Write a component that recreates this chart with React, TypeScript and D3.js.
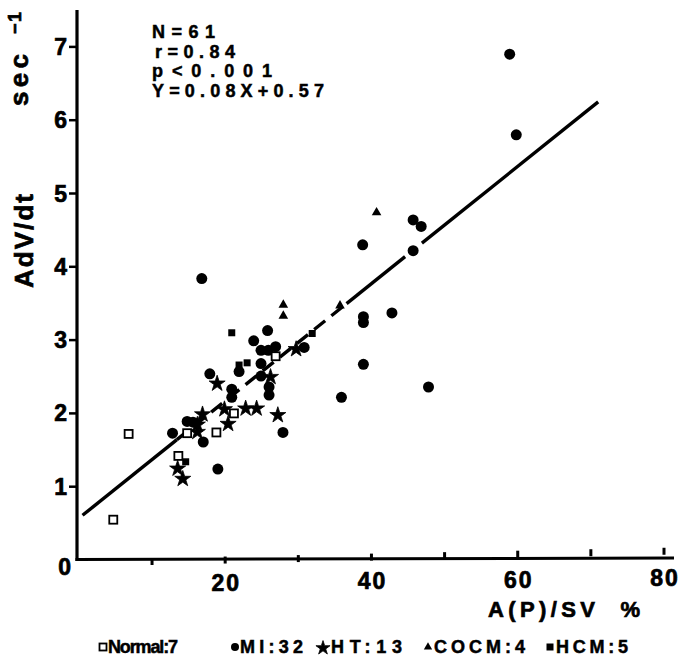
import React from "react";
import * as d3 from "d3";

// ---- data ----
const normalPts: [number, number][] = [
  [4.7, 0.55], [6.8, 1.72], [13.6, 1.42], [14.8, 1.73], [18.8, 1.74], [21.2, 2.0], [26.9, 2.78],
];
const miPts: [number, number][] = [
  [58.9, 6.9], [59.8, 5.8], [45.7, 4.64], [46.8, 4.55], [38.8, 4.3], [45.7, 4.22],
  [38.9, 3.32], [38.9, 3.24], [42.8, 3.37], [38.9, 2.67], [47.8, 2.36], [35.9, 2.22],
  [25.8, 3.13], [23.9, 2.99], [24.9, 2.86], [25.9, 2.86], [26.9, 2.91], [30.8, 2.9],
  [21.9, 2.57], [24.9, 2.68], [24.9, 2.51], [17.9, 2.54], [20.9, 2.33], [20.9, 2.22],
  [26.0, 2.36], [26.0, 2.25], [14.8, 1.89], [15.6, 1.88], [12.8, 1.73], [17.0, 1.61],
  [27.9, 1.74], [19.0, 1.24], [16.8, 3.84],
];
const htPts: [number, number][] = [
  [29.7, 2.89], [26.2, 2.51], [18.9, 2.42], [19.9, 2.07], [22.8, 2.08], [24.3, 2.08],
  [27.2, 1.99], [16.9, 2.0], [20.4, 1.87], [16.2, 1.86], [16.2, 1.76], [13.5, 1.26], [14.2, 1.12],
];
const cocmPts: [number, number][] = [
  [27.95, 3.48], [27.95, 3.33], [35.7, 3.47], [40.7, 4.74],
];
const hcmPts: [number, number][] = [
  [20.9, 3.1], [31.9, 3.09], [23.0, 2.69], [21.9, 2.66], [14.6, 1.34],
];

const slope = 0.08;
const intercept = 0.57;
// regression drawn in pieces: [fromX, toX, dashed]
const regPieces: [number, number, boolean][] = [
  [0.5, 13.4, false],
  [13.4, 36.4, true],
  [36.6, 44.6, false],
  [46.9, 71.0, false],
];

const xTicks = [10, 20, 30, 40, 50, 60, 70, 80];
const xTickLabels = [20, 40, 60, 80];
const yTicks = [1, 2, 3, 4, 5, 6, 7];
const yTickLabels = [0, 1, 2, 3, 4, 5, 6, 7];

const statLines = ["N=61", "r=0.84", "p<0.001", "Y=0.08X+0.57"];
const statWidths = [63, 80, 120, 172];

const legendItems = [
  { label: "Normal:7", kind: "normal" },
  { label: "MI:32", kind: "mi" },
  { label: "HT:13", kind: "ht" },
  { label: "COCM:4", kind: "cocm" },
  { label: "HCM:5", kind: "hcm" },
];

const FONT = "'Liberation Sans', Arial, Helvetica, sans-serif";

export default function App() {
  const W = 685, H = 659;
  const x = d3.scaleLinear().domain([0, 80]).range([78.9, 664]);
  const y = d3.scaleLinear().domain([0, 7]).range([560, 46.9]);
  const axisX = 77;
  const axisY = 559.5;

  const starPath = d3.symbol().type(d3.symbolStar).size(80)()!;
  const starPathSmall = d3.symbol().type(d3.symbolStar).size(62)()!;
  const triPath = d3.symbol().type(d3.symbolTriangle).size(40)()!;
  const triPathSmall = d3.symbol().type(d3.symbolTriangle).size(30)()!;

  const line = d3.line<number>().x((d) => x(d)).y((d) => y(slope * d + intercept));

  const marker = (kind: string, cx: number, cy: number, key: string | number, small = false) => {
    switch (kind) {
      case "normal": {
        const s = small ? 7 : 8;
        return (
          <rect key={key} x={cx - s / 2} y={cy - s / 2} width={s} height={s}
            fill="white" stroke="black" strokeWidth={1.8} />
        );
      }
      case "mi":
        return <circle key={key} cx={cx} cy={cy} r={small ? 4 : 5.5} fill="black" />;
      case "ht":
        return <path key={key} d={small ? starPathSmall : starPath} transform={`translate(${cx},${cy + 1})`} fill="black" stroke="black" strokeWidth={0.8} strokeLinejoin="round" />;
      case "cocm":
        return <path key={key} d={small ? triPathSmall : triPath} transform={`translate(${cx},${cy})`} fill="black" />;
      case "hcm": {
        const s = 7;
        return <rect key={key} x={cx - s / 2} y={cy - s / 2} width={s} height={s} fill="black" />;
      }
    }
    return null;
  };

  // legend layout
  const legendMarkerX = [103, 235, 323, 428, 550];
  const legendTextX = [108, 240, 331, 434, 556];
  const legendTextW = [70, 63, 71, 91, 72];
  const legendBaseline = 653;

  const heavy = { stroke: "black", strokeWidth: 0.7, fontWeight: 700 as const };

  return (
    <svg width={W} height={H} style={{ position: "absolute", left: 0, top: 0, background: "white" }}
      fontFamily={FONT}>
      <rect x={0} y={0} width={W} height={H} fill="white" />

      {/* axes */}
      <line x1={axisX} y1={10} x2={axisX} y2={axisY + 1.5} stroke="black" strokeWidth={3.2} />
      <line x1={axisX - 1.5} y1={axisY} x2={674} y2={axisY - 1.5} stroke="black" strokeWidth={3} />

      {yTicks.map((t) => (
        <line key={"yt" + t} x1={axisX - 8} x2={axisX} y1={y(t)} y2={y(t)} stroke="black" strokeWidth={2.5} />
      ))}
      {yTickLabels.map((t) => (
        <text key={"yl" + t} x={t === 0 ? 71 : 67} y={y(t) + (t === 0 ? 15 : 8)} textAnchor="end"
          fontSize={23} {...heavy}>{t}</text>
      ))}
      {xTicks.map((t) => (
        <line key={"xt" + t} x1={x(t)} x2={x(t)} y1={axisY - 0.02 * (x(t) - 77)} y2={axisY + 7 - 0.02 * (x(t) - 77)}
          stroke="black" strokeWidth={3} />
      ))}
      {xTickLabels.map((t) => (
        <text key={"xl" + t} x={x(t) + 1} y={593 - 0.012 * (x(t) - 77)} textAnchor="middle"
          fontSize={23} letterSpacing={2} {...heavy}>{t}</text>
      ))}

      {/* axis titles */}
      <text x={488} y={617} fontSize={22} textLength={152} lengthAdjust="spacing" {...heavy}>
        {"A(P)/SV\u00a0\u00a0%"}
      </text>
      <text transform="translate(33,288) rotate(-90)" fontSize={26}
        textLength={94} lengthAdjust="spacing" {...heavy}>AdV/dt</text>
      <text transform="translate(28,106) rotate(-90)" fontSize={26}
        textLength={52} lengthAdjust="spacing" {...heavy}>sec</text>
      <text transform="translate(21,34) rotate(-90)" fontSize={18}
        textLength={22} lengthAdjust="spacing" {...heavy}>{"\u2212 1"}</text>

      {/* stats */}
      {statLines.map((s, i) => (
        <text key={s} x={i === 1 ? 155 : 152} y={38 + i * 19.6} fontSize={18}
          textLength={statWidths[i]} lengthAdjust="spacing" {...heavy} strokeWidth={0.5}>{s}</text>
      ))}

      {/* regression line */}
      {regPieces.map(([a, b, dashed], i) => (
        <path key={"reg" + i} d={line([a, b])!} stroke="black" strokeWidth={3.4} fill="none"
          strokeDasharray={dashed ? "14 8" : undefined} />
      ))}

      {/* points */}
      <g>
        {miPts.map((p, i) => marker("mi", x(p[0]), y(p[1]), "mi" + i))}
        {hcmPts.map((p, i) => marker("hcm", x(p[0]), y(p[1]), "hcm" + i))}
        {cocmPts.map((p, i) => marker("cocm", x(p[0]), y(p[1]), "co" + i))}
        {htPts.map((p, i) => marker("ht", x(p[0]), y(p[1]), "ht" + i))}
        {normalPts.map((p, i) => marker("normal", x(p[0]), y(p[1]), "n" + i))}
      </g>

      {/* legend */}
      {legendItems.map((it, i) => (
        <g key={"lg" + i}>
          {marker(it.kind, legendMarkerX[i], legendBaseline - 6, "lm" + i, true)}
          <text x={legendTextX[i]} y={legendBaseline} fontSize={18}
            textLength={legendTextW[i]} lengthAdjust="spacing" {...heavy} strokeWidth={0.5}>{it.label}</text>
        </g>
      ))}
    </svg>
  );
}
